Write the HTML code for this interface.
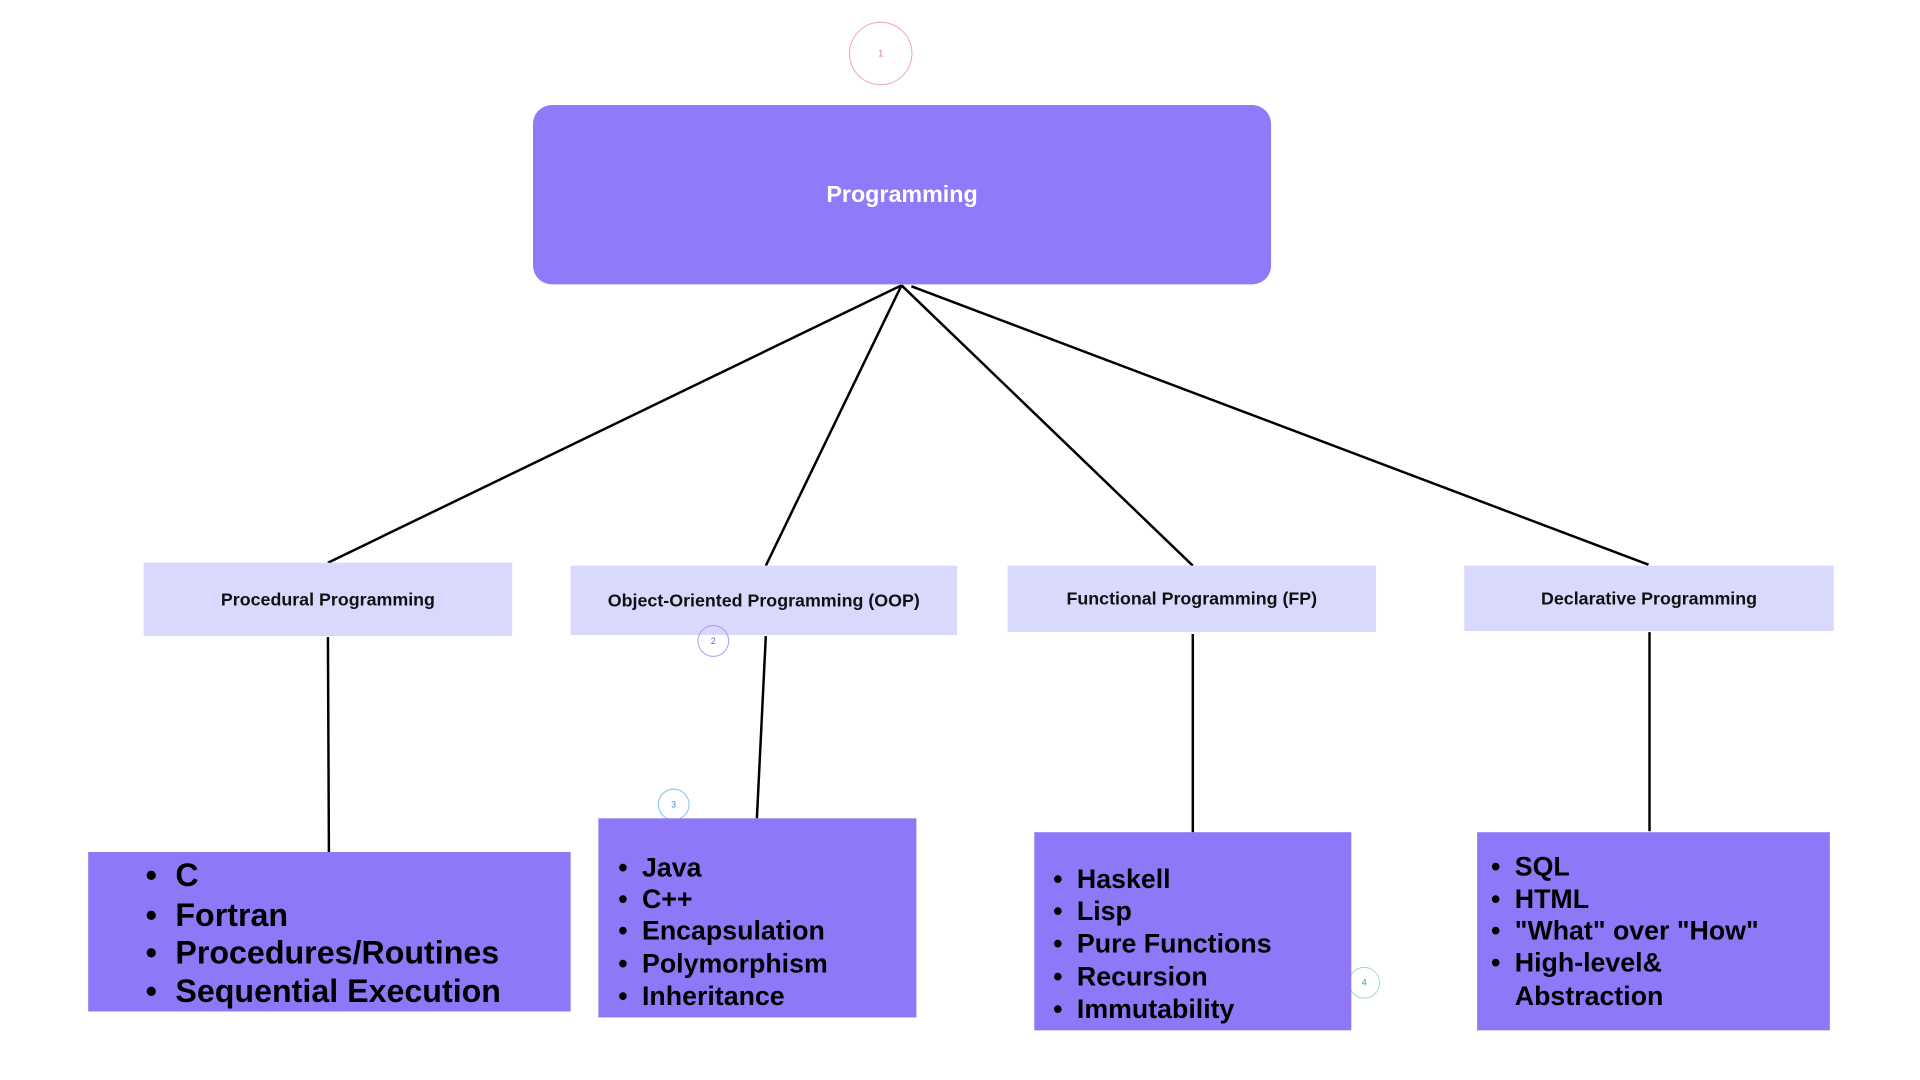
<!DOCTYPE html>
<html><head><meta charset="utf-8"><style>
body{margin:0;width:1920px;height:1080px;background:#fff;position:relative;overflow:hidden;font-family:"Liberation Sans",sans-serif}
#w{position:absolute;left:0;top:0;width:1920px;height:1080px;transform:scale(0.9907);transform-origin:0 0}
.a{position:absolute;box-sizing:border-box}
.top{background:#8f7bf9;border-radius:19px;color:#fff;font-weight:bold;font-size:23.5px;display:flex;align-items:center;justify-content:center}
.mid{background:#d8d9fd;color:#111;font-weight:bold;font-size:18px;display:flex;align-items:center;justify-content:center}
.bot{background:#8f78f8}
.t{position:absolute;color:#000;font-weight:bold;white-space:nowrap;transform:translateY(-50%)}
.c{position:absolute;border-radius:50%;border:1px solid;font-size:9px;display:flex;align-items:center;justify-content:center}
</style></head><body><div id="w">
<svg class="a" style="left:0;top:0" width="1920" height="1080">
<g stroke="#000" stroke-width="2.5" fill="none">
<line x1="910" y1="288" x2="331" y2="568"/>
<line x1="910" y1="288" x2="773" y2="571"/>
<line x1="910" y1="288" x2="1204" y2="571"/>
<line x1="920" y1="289" x2="1664" y2="570"/>
<line x1="331" y1="643" x2="332" y2="860"/>
<line x1="773" y1="642" x2="764" y2="826"/>
<line x1="1204" y1="640" x2="1204" y2="840"/>
<line x1="1665" y1="638" x2="1665" y2="839"/>
</g></svg>
<div class="c" style="left:857px;top:22px;width:62px;height:62px;border-color:#f4a0b8;color:#e07090">1</div>
<div class="a top" style="left:538px;top:106px;width:745px;height:181px">Programming</div>
<div class="a mid" style="left:145px;top:568px;width:372px;height:74px">Procedural Programming</div>
<div class="a mid" style="left:576px;top:571px;width:390px;height:70px">Object-Oriented Programming (OOP)</div>
<div class="a mid" style="left:1017px;top:571px;width:372px;height:67px">Functional Programming (FP)</div>
<div class="a mid" style="left:1478px;top:571px;width:373px;height:66px">Declarative Programming</div>
<div class="c" style="left:704px;top:631px;width:30px;height:30px;border-color:#a99cf8;color:#6a5cf0">2</div>
<div class="c" style="left:664px;top:796px;width:30px;height:30px;border-color:#7cc0f4;color:#3a90e0">3</div>
<div class="c" style="left:1361px;top:976px;width:30px;height:30px;border-color:#9ee0b0;color:#30b050">4</div>
<div class="a bot" style="left:89px;top:860px;width:487px;height:161px"></div>
<div class="a bot" style="left:604px;top:826px;width:321px;height:201px"></div>
<div class="a bot" style="left:1044px;top:840px;width:320px;height:200px"></div>
<div class="a bot" style="left:1491px;top:840px;width:356px;height:200px"></div>
<div style="font-size:32.5px">
<div class="t" style="left:147px;top:884px">•</div><div class="t" style="left:177px;top:884px">C</div>
<div class="t" style="left:147px;top:924px">•</div><div class="t" style="left:177px;top:924px">Fortran</div>
<div class="t" style="left:147px;top:962px">•</div><div class="t" style="left:177px;top:962px">Procedures/Routines</div>
<div class="t" style="left:147px;top:1001px">•</div><div class="t" style="left:177px;top:1001px">Sequential Execution</div>
</div>
<div style="font-size:27px">
<div class="t" style="left:624px;top:876px">•</div><div class="t" style="left:648px;top:876px">Java</div>
<div class="t" style="left:624px;top:908px">•</div><div class="t" style="left:648px;top:908px">C++</div>
<div class="t" style="left:624px;top:940px">•</div><div class="t" style="left:648px;top:940px">Encapsulation</div>
<div class="t" style="left:624px;top:973px">•</div><div class="t" style="left:648px;top:973px">Polymorphism</div>
<div class="t" style="left:624px;top:1006px">•</div><div class="t" style="left:648px;top:1006px">Inheritance</div>
<div class="t" style="left:1063px;top:888px">•</div><div class="t" style="left:1087px;top:888px">Haskell</div>
<div class="t" style="left:1063px;top:920px">•</div><div class="t" style="left:1087px;top:920px">Lisp</div>
<div class="t" style="left:1063px;top:953px">•</div><div class="t" style="left:1087px;top:953px">Pure Functions</div>
<div class="t" style="left:1063px;top:986px">•</div><div class="t" style="left:1087px;top:986px">Recursion</div>
<div class="t" style="left:1063px;top:1019px">•</div><div class="t" style="left:1087px;top:1019px">Immutability</div>
<div class="t" style="left:1505px;top:875px">•</div><div class="t" style="left:1529px;top:875px">SQL</div>
<div class="t" style="left:1505px;top:908px">•</div><div class="t" style="left:1529px;top:908px">HTML</div>
<div class="t" style="left:1505px;top:940px">•</div><div class="t" style="left:1529px;top:940px">"What" over "How"</div>
<div class="t" style="left:1505px;top:972px">•</div><div class="t" style="left:1529px;top:972px">High-level&amp;</div>
<div class="t" style="left:1529px;top:1006px">Abstraction</div>
</div>
</div></body></html>
